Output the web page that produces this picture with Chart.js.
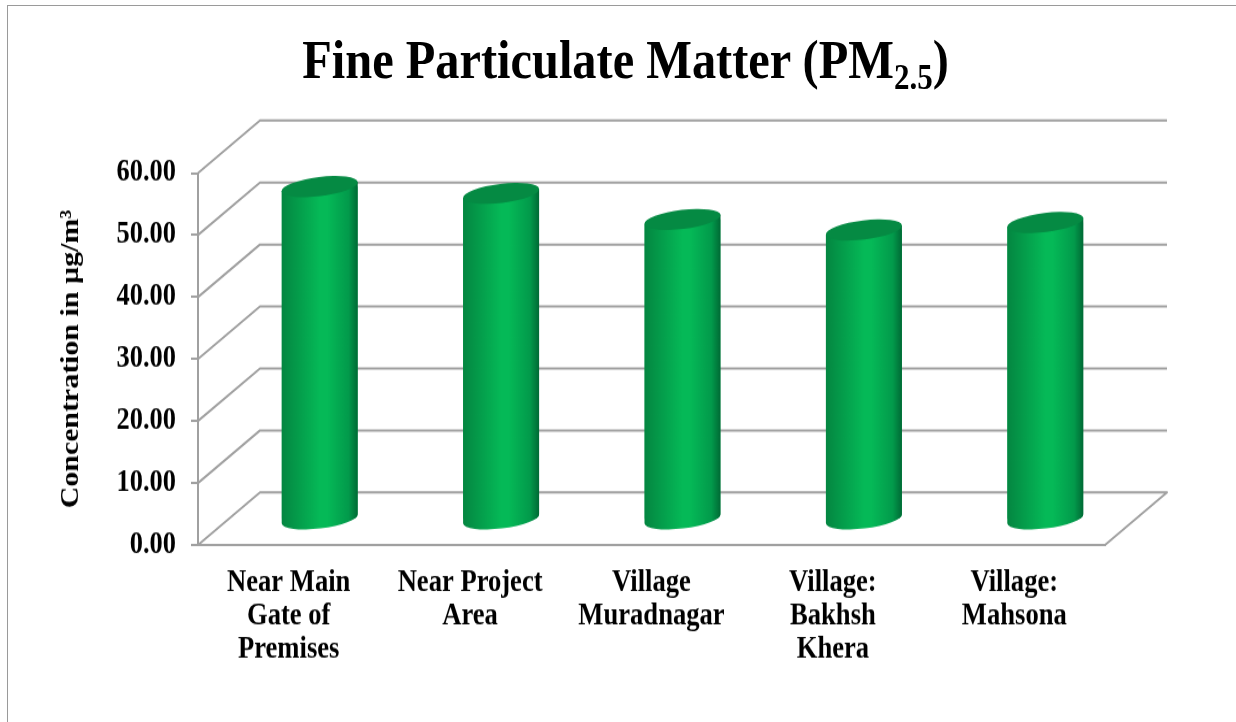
<!DOCTYPE html>
<html>
<head>
<meta charset="utf-8">
<script src="https://cdn.jsdelivr.net/npm/chart.js@4"></script>
<style>
html,body{margin:0;padding:0;background:#fff;width:1236px;height:722px;overflow:hidden}
#frame{position:absolute;left:7px;top:5px;right:-5px;bottom:-5px;border-left:1.5px solid #9a9a9a;border-top:1.5px solid #9a9a9a}
#stage{position:absolute;left:0;top:0;width:1236px;height:628px;transform:scaleY(1.1497);transform-origin:0 0}
#title{position:absolute;left:0;width:1251px;top:27px;text-align:center;font:bold 48.4px "Liberation Serif",serif;color:#000;white-space:nowrap;line-height:50px}
#title sub{font-size:31px;line-height:0;vertical-align:-9px}
canvas{position:absolute;left:0;top:0}
</style>
</head>
<body>
<div id="frame"></div>
<div id="stage">
<div id="title">Fine Particulate Matter (PM<sub>2.5</sub>)</div>
<canvas id="c" width="1236" height="628"></canvas>
</div>
<script>
const categories = [["Near Main","Gate of","Premises"],["Near Project","Area"],["Village","Muradnagar"],["Village:","Bakhsh","Khera"],["Village:","Mahsona"]];
const seriesName = "Fine Particulate Matter (PM2.5)";
const values = [53.8, 52.7, 48.5, 46.8, 48.0];
const yTicks = [0,10,20,30,40,50,60];
const axisTitle = "Concentration in µg/m³";

const DEPTH_X = 62, DEPTH_Y = 45.7;
const SHIFT_X = 31, SHIFT_Y = 21.7;
const RY = 8.3, ROT = -6 * Math.PI / 180;
const GRID = '#a0a0a0';
const FONT = '"Liberation Serif", serif';

function tilt(b){ return (b.width/2) * Math.sin(-ROT); }
function bodyPath(ctx, b){
  const rx = b.width/2, t = tilt(b);
  ctx.moveTo(b.x-rx, b.y+t);
  ctx.lineTo(b.x+rx, b.y-t);
  ctx.lineTo(b.x+rx, b.base-t);
  ctx.ellipse(b.x, b.base, rx/Math.cos(ROT), RY, ROT, 0, Math.PI, false);
  ctx.closePath();
}
const cylinder3d = {
  id:'cylinder3d',
  beforeDatasetsDraw(chart){
    const {ctx, chartArea:a, scales:{y}} = chart;
    ctx.save();
    ctx.strokeStyle = GRID; ctx.lineWidth = 2; ctx.lineJoin='round';
    yTicks.forEach(v=>{
      const p = y.getPixelForValue(v);
      ctx.beginPath();
      ctx.moveTo(a.left,p);
      ctx.lineTo(a.left+DEPTH_X,p-DEPTH_Y);
      ctx.lineTo(a.right+DEPTH_X,p-DEPTH_Y);
      if(v===0) ctx.lineTo(a.right,p);
      ctx.stroke();
    });
    ctx.restore();
  },
  beforeDatasetDraw(chart,args){
    const ctx = chart.ctx;
    ctx.save();
    ctx.translate(SHIFT_X,-SHIFT_Y);
    ctx.beginPath();
    args.meta.data.forEach(el=>{
      const b = el.getProps(['x','y','base','width'],true);
      bodyPath(ctx,b);
    });
    ctx.clip();
  },
  afterDatasetDraw(chart,args){
    const ctx = chart.ctx;
    ctx.restore();
    ctx.save();
    ctx.translate(SHIFT_X,-SHIFT_Y);
    args.meta.data.forEach(el=>{
      const b = el.getProps(['x','y','base','width'],true);
      const rx = b.width/2;
      const g = ctx.createLinearGradient(b.x-rx,0,b.x+rx,0);
      g.addColorStop(0,'#048641');
      g.addColorStop(0.5,'#05b957');
      g.addColorStop(0.6,'#05b957');
      g.addColorStop(0.88,'#029a4b');
      g.addColorStop(1,'#006a35');
      ctx.fillStyle = g;
      ctx.beginPath(); bodyPath(ctx,b); ctx.fill();
      ctx.fillStyle = '#058a43';
      ctx.beginPath();
      ctx.ellipse(b.x,b.y,rx/Math.cos(ROT),RY,ROT,0,Math.PI*2);
      ctx.fill();
    });
    ctx.restore();
  }
};

new Chart(document.getElementById('c'),{
  type:'bar',
  data:{labels:categories,datasets:[{label:seriesName,data:values,backgroundColor:'#05a850',borderWidth:0,clip:false,barPercentage:0.419,categoryPercentage:1}]},
  plugins:[cylinder3d],
  options:{
    responsive:false,animation:false,
    layout:{padding:{top:150.5,right:131,left:0,bottom:0}},
    plugins:{legend:{display:false},title:{display:false},tooltip:{enabled:false}},
    scales:{
      x:{
        afterFit(s){s.height=154;},
        grid:{display:false},
        border:{display:true,color:GRID,width:2},
        ticks:{autoSkip:false,maxRotation:0,minRotation:0,padding:10,color:'#000',font:{family:FONT,weight:'bold',size:26.6,lineHeight:1.1}}
      },
      y:{
        min:0,max:60,
        afterFit(s){s.width=198;},
        grid:{drawOnChartArea:false,drawTicks:true,tickLength:7,color:GRID,lineWidth:2},
        border:{display:true,color:GRID,width:2},
        ticks:{stepSize:10,padding:15,color:'#000',font:{family:FONT,weight:'bold',size:26.4},callback:v=>Number(v).toFixed(2)},
        title:{display:true,text:axisTitle,color:'#000',font:{family:FONT,weight:'bold',size:26},padding:{top:56,bottom:0}}
      }
    }
  }
});
</script>
</body>
</html>
